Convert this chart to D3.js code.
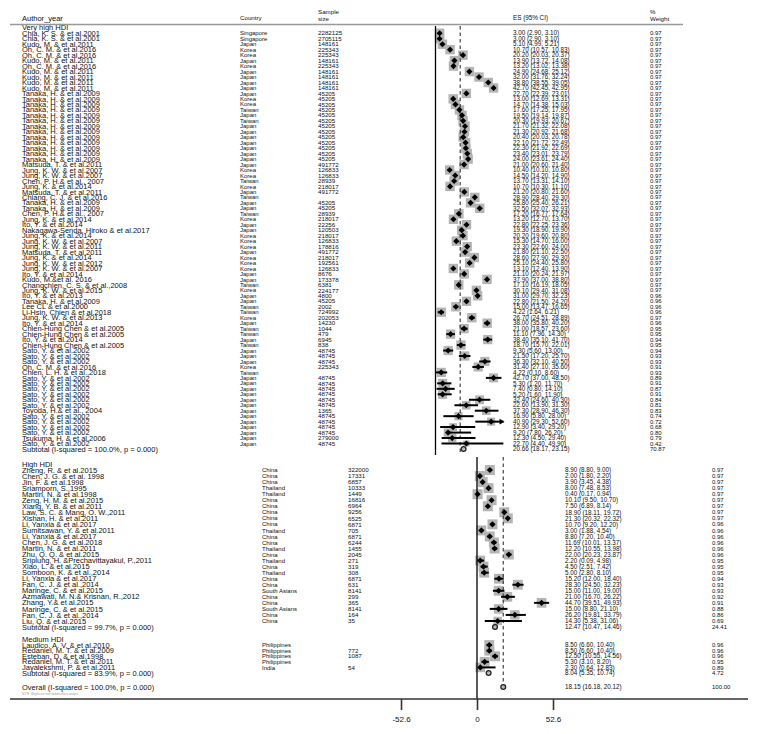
<!DOCTYPE html>
<html>
<head>
<meta charset="utf-8">
<script src="https://cdnjs.cloudflare.com/ajax/libs/d3/7.8.5/d3.min.js"></script>
<style>
body{margin:0;background:#fff;}
text{font-family:"Liberation Sans", Arial, sans-serif; fill:#111;}
</style>
</head>
<body>
<div id="chart"></div>
<script>

// ---- Very high HDI ----
let vhAuthors = ["Chia, K. S. & et al.2001","Chia, K. S. & et al.2001","Kudo, M. & et al.2011","Oh, C. M. & et al.2016","Oh, C. M. & et al.2016",
"Kudo, M. & et al.2011","Oh, C. M. & et al.2016","Kudo, M. & et al.2011","Kudo, M. & et al.2011","Kudo, M. & et al.2011","Kudo, M. & et al.2011",
"Tanaka, H. & et al.2009","Tanaka, H. & et al.2009","Tanaka, H. & et al.2009","Tanaka, H. & et al.2009","Tanaka, H. & et al.2009",
"Tanaka, H. & et al.2009","Tanaka, H. & et al.2009","Tanaka, H. & et al.2009","Tanaka, H. & et al.2009","Tanaka, H. & et al.2009",
"Tanaka, H. & et al.2009","Tanaka, H. & et al.2009","Tanaka, H. & et al.2009","Matsuda, T. & et al.2011","Jung, K. W. & et al.2007",
"Jung, K. W. & et al.2007","Chen, P. H.& et al., 2007","Jung, K. & et al.2014","Matsuda, T. & et al.2011","Chiang, C. J. & et al.2016",
"Tanaka, H. & et al.2009","Tanaka, H. & et al.2009","Chen, P. H.& et al., 2007","Jung, K. & et al.2014","Ito, Y. & et al.2014",
"Nakagawa-Senda, Hiroko & et al.2017","Jung, K. & et al.2014","Jung, K. W. & et al.2007","Jung, K. W. & et al.2011","Matsuda, T. & et al.2011",
"Jung, K. & et al.2014","Jung, K. W. & et al.2012","Jung, K. W. & et al.2007","Ito, Y. & et al.2014","Kudo, M.&et al. 2016",
"Changchien, C. S. & et al.,2008","Jung, K. W. & et al.2015","Ito, Y. & et al.2013","Tanaka, H. & et al.2009","Lee CL & et al.2000",
"Li-Hsin, Chien & et al.2018","Jung, K. W. & et al.2013","Ito, Y. & et al.2014","Chien-Hung Chen & et al.2005","Chien-Hung Chen & et al.2005",
"Ito, Y. & et al.2014","Chien-Hung Chen & et al.2005","Sato, Y. & et al.2002","Sato, Y. & et al.2002","Sato, Y. & et al.2002",
"Oh, C. M. & et al.2016","Chien, L. H. & et al.,2018","Sato, Y. & et al.2002","Sato, Y. & et al.2002","Sato, Y. & et al.2002",
"Sato, Y. & et al.2002","Sato, Y. & et al.2002","Sato, Y. & et al.2002","Toyoda, H.& et al., 2004","Sato, Y. & et al.2002",
"Sato, Y. & et al.2002","Sato, Y. & et al.2002","Sato, Y. & et al.2002","Tsukuma, H. & et al.2006","Sato, Y. & et al.2002"];
let vhCountry = ["Singapore","Singapore","Japan","Korea","Korea","Japan","Korea","Japan","Japan","Japan","Japan",
"Japan","Korea","Korea","Taiwan","Japan","Taiwan","Japan","Japan","Japan","Japan","Japan","Japan","Japan",
"Japan","Korea","Korea","Taiwan","Korea","Japan","Taiwan","Japan","Japan","Taiwan","Korea","Japan","Japan","Korea","Korea","Korea",
"Japan","Korea","Korea","Korea","Japan","Japan","Taiwan","Korea","Japan","Japan","Taiwan","Taiwan","Korea","Japan","Taiwan","Taiwan",
"Japan","Taiwan","Japan","Japan","Japan","Korea","Taiwan","Japan","Japan","Japan","Japan","Japan","Japan","Japan","Japan","Japan",
"Japan","Japan","Japan","Japan"];
let vhSize = ["2282125","2705115","148161","225343","225343","148161","225343","148161","148161","148161","148161",
"45205","45205","45205","45205","45205","45205","45205","45205","45205","45205","45205","45205","45205",
"491772","126833","126833","28939","218017","491772","","45205","45205","28939","218017","22256","120503","218017","126833","178816",
"491772","218017","192561","126833","8676","173378","6381","224177","4800","45205","2002","724992","202053","14230","1044","479",
"6945","838","48745","48745","48745","225343","","48745","48745","48745","48745","48745","48745","1365","48745",
"48745","48745","48745","279000","48745"];
let vhES = [3.00,3.00,5.10,10.70,20.20,13.90,13.20,24.90,32.00,38.80,42.70,22.70,13.00,14.70,17.60,19.50,20.30,21.70,21.30,20.40,
22.10,22.30,23.40,24.00,21.00,10.40,14.50,13.70,10.70,21.20,28.90,25.80,32.50,17.20,13.20,22.80,19.30,20.20,15.30,23.30,
21.80,28.60,25.10,13.10,21.10,37.90,17.10,30.10,31.00,22.80,15.00,4.22,26.70,38.00,21.00,11.10,38.40,18.70,9.30,21.50,
36.30,31.40,4.22,42.70,5.30,7.40,5.20,32.40,22.60,37.30,16.90,40.90,12.90,9.20,12.30,22.70];
let vhLo = [2.90,2.90,4.99,10.57,20.03,13.72,13.02,24.68,31.76,38.55,42.45,22.39,12.69,14.38,17.25,19.14,19.93,21.32,20.92,20.03,
21.72,21.92,23.01,23.61,20.60,10.10,14.20,13.31,10.30,20.80,28.40,25.40,32.07,16.77,12.70,22.25,18.90,19.60,14.70,22.60,
21.10,27.90,24.40,12.40,20.24,37.00,16.19,29.40,29.70,21.50,13.47,1.64,24.51,35.80,18.57,7.96,35.10,15.70,5.60,17.20,
32.10,27.10,0.10,37.00,1.20,0.80,1.60,24.60,13.90,28.90,5.80,29.30,3.40,7.80,4.50,4.40];
let vhHi = [3.10,3.10,5.21,10.83,20.37,14.08,13.38,25.12,32.24,39.05,42.95,23.01,13.31,15.03,17.95,19.87,20.67,22.08,21.68,20.78,
22.49,22.69,23.79,24.40,21.40,10.80,14.90,14.10,11.10,21.60,29.30,26.21,32.93,17.64,13.70,23.36,19.90,20.80,16.00,24.00,
22.50,29.30,25.80,13.90,21.97,38.80,18.05,31.08,32.23,24.20,16.65,6.21,28.89,40.20,23.60,14.30,41.70,22.01,13.00,25.70,
40.50,35.60,8.60,48.50,11.70,14.10,11.90,40.30,31.30,46.30,28.00,52.60,29.20,26.20,29.40,49.90];
let vhWeight = [0.97,0.97,0.97,0.97,0.97,0.97,0.97,0.97,0.97,0.97,0.97,0.97,0.97,0.97,0.97,0.97,0.97,0.97,0.97,0.97,
0.97,0.97,0.97,0.97,0.97,0.97,0.97,0.97,0.97,0.97,0.97,0.97,0.97,0.97,0.97,0.97,0.97,0.97,0.97,0.97,
0.97,0.97,0.97,0.97,0.97,0.97,0.97,0.97,0.96,0.96,0.96,0.96,0.97,0.96,0.95,0.95,0.94,0.95,0.94,0.93,
0.93,0.91,0.93,0.89,0.91,0.87,0.91,0.84,0.81,0.83,0.74,0.72,0.68,0.80,0.79,0.42];
let vhSub = {es: 20.66, lo: 18.17, hi: 23.15, w: "70.87", label: "Subtotal  (I-squared = 100.0%, p = 0.000)"};

// ---- High HDI ----
let hiAuthors = ["Zheng, R. & et al.2015","Chen, J. G. & et al. 1998","Jin, F. & et al.1998","Sriamporn, S.,1995","Martin, N. & et al.1998",
"Zeng, H. M. & et al.2015","Xiang, Y. B. & et al.2011","Law, S. C. & Mang, O. W.,2011","Xishan, H. & et al.2011","Li, Yanxia & et al.2017",
"Sumitsawan, Y. & et al.2011","Li, Yanxia & et al.2017","Chen, J. G. & et al.2018","Martin, N. & et al.2011","Zhu, Q. Q. & et al.2015",
"Sriplung, H. &Prechavittayakul, P.,2011","Xiao, L. & et al.2015","Somboon, K. & et al.,2014","Li, Yanxia & et al.2017","Fan, C. J. & et al.,2014",
"Maringe, C. & et al.2015","Azmawati, M. N.& Krisnan, R.,2012","Zhang, Y.& et al.2015","Maringe, C. & et al.2015","Fan, C. J. & et al.,2014",
"Liu, Q. & et al.2015"];
let hiCountry = ["China","China","China","Thailand","Thailand","China","China","China","China","China","Thailand","China","China",
"Thailand","China","Thailand","China","Thailand","China","China","South Asians","China","China","South Asians","China","China"];
let hiSize = ["322000","17331","6857","10333","1449","16816","6964","9256","6525","6871","705","6871","6244","1455","2045","271",
"319","308","6871","631","8141","299","365","8141","164","35"];
let hiES = [8.90,2.00,3.90,8.00,0.40,10.10,7.50,18.90,21.30,10.70,3.00,8.80,11.69,12.20,22.00,2.20,4.50,5.00,15.20,28.30,
15.00,21.00,44.70,15.00,26.20,14.30];
let hiLo = [8.80,1.80,3.45,7.48,0.17,9.50,6.89,18.11,20.32,9.20,1.88,7.20,10.01,10.55,20.23,0.09,2.51,2.80,12.00,24.50,
11.00,16.70,39.51,8.80,19.81,5.38];
let hiHi = [9.00,2.20,4.38,8.53,0.94,10.70,8.14,19.72,22.32,12.20,4.54,10.40,13.37,13.98,23.87,4.98,7.42,8.10,18.40,32.23,
19.00,26.22,49.93,21.10,33.79,31.06];
let hiWeight = [0.97,0.97,0.97,0.97,0.97,0.97,0.97,0.97,0.97,0.96,0.96,0.96,0.96,0.96,0.96,0.95,0.95,0.95,0.94,0.93,
0.93,0.92,0.91,0.88,0.86,0.69];
let hiSub = {es: 12.47, lo: 10.47, hi: 14.46, w: "24.41", label: "Subtotal  (I-squared = 99.7%, p = 0.000)"};

// ---- Medium HDI ----
let mdAuthors = ["Laudico, A. V. & et al.2010","Redaniel, M. T. & et al.2009","Esteban, D. & et al.1998","Redaniel, M. T. & et al.2011","Jayalekshmi, P. & et al.2011"];
let mdCountry = ["Philippines","Philippines","Philippines","Philippines","India"];
let mdSize = ["","772","1087","","54"];
let mdES = [8.50,8.50,12.50,5.30,2.30];
let mdLo = [6.60,6.60,10.55,3.10,0.64];
let mdHi = [10.40,10.40,14.56,8.20,12.83];
let mdWeight = [0.96,0.96,0.96,0.95,0.89];
let mdSub = {es: 8.04, lo: 5.35, hi: 10.74, w: "4.72", label: "Subtotal  (I-squared = 83.9%, p = 0.000)"};

let overall = {es: 18.15, lo: 16.18, hi: 20.12, w: "100.00", label: "Overall  (I-squared = 100.0%, p = 0.000)"};
let ticks = [-52.6, 0, 52.6];

let width = 762, height = 734;
let boxGrey = "#b4b4b4";

let svg = d3.select("#chart").append("svg").attr("width", width).attr("height", height);

// top graph and bottom graph were drawn on different scales
let xTop = d3.scaleLinear().domain([0, 50]).range([435.5, 503.5]);
let xBot = d3.scaleLinear().domain([-52.6, 52.6]).range([401, 553]);

let rowTop = d3.scaleLinear().domain([0, 77]).range([27.8, 449]);
let rowHigh = d3.scaleLinear().domain([0, 27]).range([464, 627]);
let rowMed = d3.scaleLinear().domain([0, 6]).range([639.5, 673]);
let overallY = 687;

let colTop = {country: 240, size: 318, es: 513, wt: 650};
let colBot = {country: 262, size: 348, es: 565, wt: 712};

let gBoxes = svg.append("g");
let gRef = svg.append("g");
let gMarks = svg.append("g");
let gText = svg.append("g");

function ciText(e, l, h){
  return e.toFixed(2) + " (" + l.toFixed(2) + ", " + h.toFixed(2) + ")";
}

function addText(x, y, str, size){
  gText.append("text").attr("x", x).attr("y", y).attr("dy", "0.35em")
    .attr("font-size", size).text(str);
}

function drawGroup(label, authors, country, size, es, lo, hi, weight, sub, row, x, col, boxMax){
  let boxSize = d3.scaleSqrt().domain([0, 0.97]).range([0, boxMax]);
  let dom = x.domain();
  let rows = d3.range(authors.length);

  addText(22, row(0), label, 7.5);

  gBoxes.selectAll(null).data(rows).enter().append("rect")
    .attr("x", i => x(es[i]) - boxSize(weight[i]) / 2)
    .attr("y", i => row(i + 1) - boxSize(weight[i]) / 2)
    .attr("width", i => boxSize(weight[i]))
    .attr("height", i => boxSize(weight[i]))
    .attr("fill", boxGrey);

  gMarks.selectAll(null).data(rows).enter().append("line")
    .attr("x1", i => x(Math.max(lo[i], dom[0])))
    .attr("x2", i => x(Math.min(hi[i], dom[1])))
    .attr("y1", i => row(i + 1)).attr("y2", i => row(i + 1))
    .attr("stroke", "#000").attr("stroke-width", 2);

  // arrow where the interval runs off the scale
  rows.filter(i => hi[i] > dom[1]).forEach(function(i){
    let ax = x(dom[1]), ay = row(i + 1);
    gMarks.append("path")
      .attr("d", "M" + (ax + 1) + "," + ay + "L" + (ax - 4) + "," + (ay - 2.8) + "L" + (ax - 4) + "," + (ay + 2.8) + "Z")
      .attr("fill", "#000");
  });

  gMarks.selectAll(null).data(rows).enter().append("path")
    .attr("d", d3.symbol(d3.symbolSquare, 19))
    .attr("transform", i => "translate(" + x(es[i]) + "," + row(i + 1) + ") rotate(45)")
    .attr("fill", "#000");

  rows.forEach(function(i){
    let y = row(i + 1);
    addText(22, y, authors[i], 7.5);
    addText(col.country, y, country[i], 6);
    addText(col.size, y, size[i], 6.2);
    addText(col.es, y, ciText(es[i], lo[i], hi[i]), 6.3);
    addText(col.wt, y, weight[i].toFixed(2), 6);
  });

  let sy = row(authors.length + 1);
  gMarks.append("circle").attr("cx", x(sub.es)).attr("cy", sy).attr("r", 2.4)
    .attr("fill", "#bbb").attr("stroke", "#222").attr("stroke-width", 1.3);
  addText(22, sy, sub.label, 7.5);
  addText(col.es, sy, ciText(sub.es, sub.lo, sub.hi), 6.3);
  addText(col.wt, sy, sub.w, 6);
}

// header
addText(22, 18, "Author_year", 7.5);
addText(colTop.country, 18, "Country", 6.2);
addText(colTop.size, 12, "Sample", 6.2);
addText(colTop.size, 18.5, "size", 6.2);
addText(colTop.es, 18, "ES (95% CI)", 6.3);
addText(colTop.wt, 12, "%", 6.2);
addText(colTop.wt, 18.5, "Weight", 6.2);
svg.append("line").attr("x1", 10).attr("x2", 683).attr("y1", 24.5).attr("y2", 24.5)
  .attr("stroke", "#999").attr("stroke-width", 1.4);

drawGroup("Very high HDI", vhAuthors, vhCountry, vhSize, vhES, vhLo, vhHi, vhWeight, vhSub, rowTop, xTop, colTop, 9.4);
drawGroup("High HDI", hiAuthors, hiCountry, hiSize, hiES, hiLo, hiHi, hiWeight, hiSub, rowHigh, xBot, colBot, 10);
drawGroup("Medium HDI", mdAuthors, mdCountry, mdSize, mdES, mdLo, mdHi, mdWeight, mdSub, rowMed, xBot, colBot, 10);

// overall row
gMarks.append("circle").attr("cx", xBot(overall.es)).attr("cy", overallY).attr("r", 2.4)
  .attr("fill", "#bbb").attr("stroke", "#222").attr("stroke-width", 1.3);
addText(22, overallY, overall.label, 7.5);
addText(colBot.es, overallY, ciText(overall.es, overall.lo, overall.hi), 6.3);
addText(colBot.wt, overallY, overall.w, 6);
gText.append("text").attr("x", 22).attr("y", 695).attr("font-size", 2.6).attr("fill", "#999")
  .style("fill", "#999").text("NOTE: Weights are from random effects analysis");

// reference lines: no effect and overall estimate
gRef.append("line").attr("x1", xTop(0)).attr("x2", xTop(0)).attr("y1", 26).attr("y2", 455)
  .attr("stroke", "#000").attr("stroke-width", 1.3);
gRef.append("line").attr("x1", xTop(overall.es)).attr("x2", xTop(overall.es)).attr("y1", 26).attr("y2", 455)
  .attr("stroke", "#333").attr("stroke-width", 1.1).attr("stroke-dasharray", "3.5,3");
gRef.append("line").attr("x1", xBot(0)).attr("x2", xBot(0)).attr("y1", 457).attr("y2", 699)
  .attr("stroke", "#000").attr("stroke-width", 1.3);
gRef.append("line").attr("x1", xBot(overall.es)).attr("x2", xBot(overall.es)).attr("y1", 457).attr("y2", 684)
  .attr("stroke", "#333").attr("stroke-width", 1.1).attr("stroke-dasharray", "3.5,3");

// x axis
svg.append("line").attr("x1", 10).attr("x2", 748).attr("y1", 699).attr("y2", 699)
  .attr("stroke", "#333").attr("stroke-width", 1.6);
let axis = d3.axisBottom(xBot).tickValues(ticks).tickSize(11).tickPadding(6)
  .tickFormat(d => d.toString());
let ax = svg.append("g").attr("transform", "translate(0,699)").call(axis);
ax.select(".domain").remove();
ax.selectAll("line").attr("stroke", "#333").attr("stroke-width", 1.6);
ax.attr("font-size", 8).attr("font-family", "Liberation Sans, Arial, sans-serif");
ax.selectAll("text").attr("fill", "#222");

</script>
</body>
</html>
